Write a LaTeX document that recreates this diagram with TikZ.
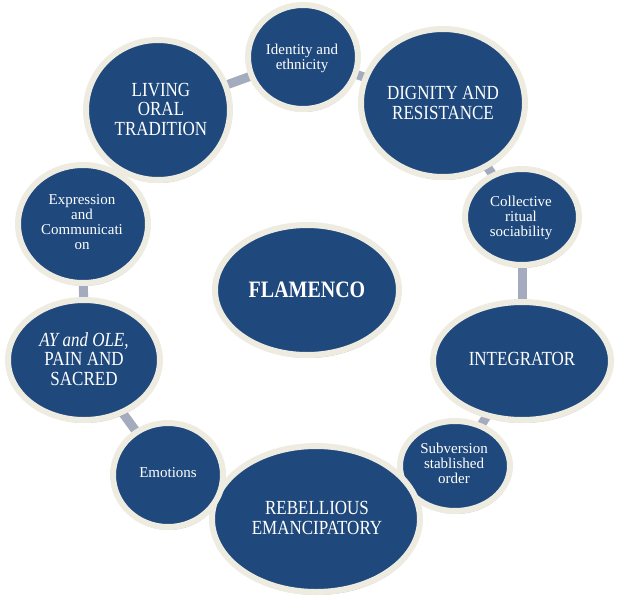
\documentclass[tikz,border=0pt]{standalone}
\usepackage{fontspec}
\setmainfont{Liberation Serif}
\newfontfamily\bigf[FakeStretch=0.85]{Liberation Serif}
\usetikzlibrary{shapes.geometric,shadows}
\pgfdeclarelayer{bg}
\pgfsetlayers{bg,main}
\definecolor{fillblue}{HTML}{1F497D}
\definecolor{rim}{HTML}{EEECE1}
\definecolor{linkc}{HTML}{A5ABBE}
\begin{document}
\begin{tikzpicture}[x=1pt,y=-1pt,
  oval/.style={ellipse, draw=rim, line width=6pt, fill=fillblue, inner sep=0pt,
    drop shadow={shadow xshift=1pt, shadow yshift=-3pt, opacity=0.22, fill=black}},
  bigtxt/.style={text=white, align=center, font=\bigf\fontsize{20}{19.5}\selectfont, inner sep=0pt},
  smalltxt/.style={text=white, align=center, font=\fontsize{15}{15}\selectfont, inner sep=0pt},
  linkline/.style={draw=linkc, line width=9pt}
]
\useasboundingbox (0,0) rectangle (620,605);

% ovals
\node[oval, minimum width=110pt, minimum height=104pt] (e1) at (303,57) {};
\node[oval, minimum width=164pt, minimum height=148pt] (e2) at (443,103) {};
\node[oval, minimum width=114pt, minimum height=96pt] (e3) at (522,217) {};
\node[oval, minimum width=178pt, minimum height=118pt] (e4) at (522,361) {};
\node[oval, minimum width=110pt, minimum height=90pt] (e5) at (455,466) {};
\node[oval, minimum width=208pt, minimum height=146pt] (e6) at (316,519) {};
\node[oval, minimum width=110pt, minimum height=104pt] (e7) at (168,475) {};
\node[oval, minimum width=152pt, minimum height=120pt] (e8) at (84,360) {};
\node[oval, minimum width=130pt, minimum height=118pt] (e9) at (83,224) {};
\node[oval, minimum width=144pt, minimum height=140pt] (e10) at (158,110) {};
\node[oval, minimum width=184pt, minimum height=130pt] (fl) at (307,290) {};

% connectors behind
\begin{pgfonlayer}{bg}
\draw[linkline] (e1.center) -- (e2.center);
\draw[linkline] (e2.center) -- (e3.center);
\draw[linkline] (e3.center) -- (e4.center);
\draw[linkline] (e4.center) -- (e5.center);
\draw[linkline] (e5.center) -- (e6.center);
\draw[linkline] (e6.center) -- (e7.center);
\draw[linkline] (e7.center) -- (e8.center);
\draw[linkline] (e8.center) -- (e9.center);
\draw[linkline] (e9.center) -- (e10.center);
\draw[linkline] (e10.center) -- (e1.center);
\end{pgfonlayer}

% texts
\node[smalltxt] (t1) at (302,58) {Identity and\\ethnicity};
\node[bigtxt] (t2) at (443,103) {DIGNITY AND\\RESISTANCE};
\node[smalltxt] (t3) at (521,218) {Collective\\ritual\\sociability};
\node[bigtxt] (t4) at (522,359) {INTEGRATOR};
\node[smalltxt] (t5) at (454,463) {Subversion\\stablished\\order};
\node[bigtxt] (t6) at (317,518) {REBELLIOUS\\EMANCIPATORY};
\node[smalltxt] (t7) at (168,473) {Emotions};
\node[bigtxt] (t8) at (84,359) {{\itshape AY and OLE,}\\PAIN AND\\SACRED};
\node[smalltxt] (t9) at (82,222) {Expression\\and\\Communicati\\on};
\node[bigtxt] (t10) at (161,109) {LIVING\\ORAL\\TRADITION};
\node[bigtxt, font=\bigf\bfseries\fontsize{23.5}{23.5}\selectfont] (t11) at (307,290) {FLAMENCO};
\end{tikzpicture}
\end{document}
